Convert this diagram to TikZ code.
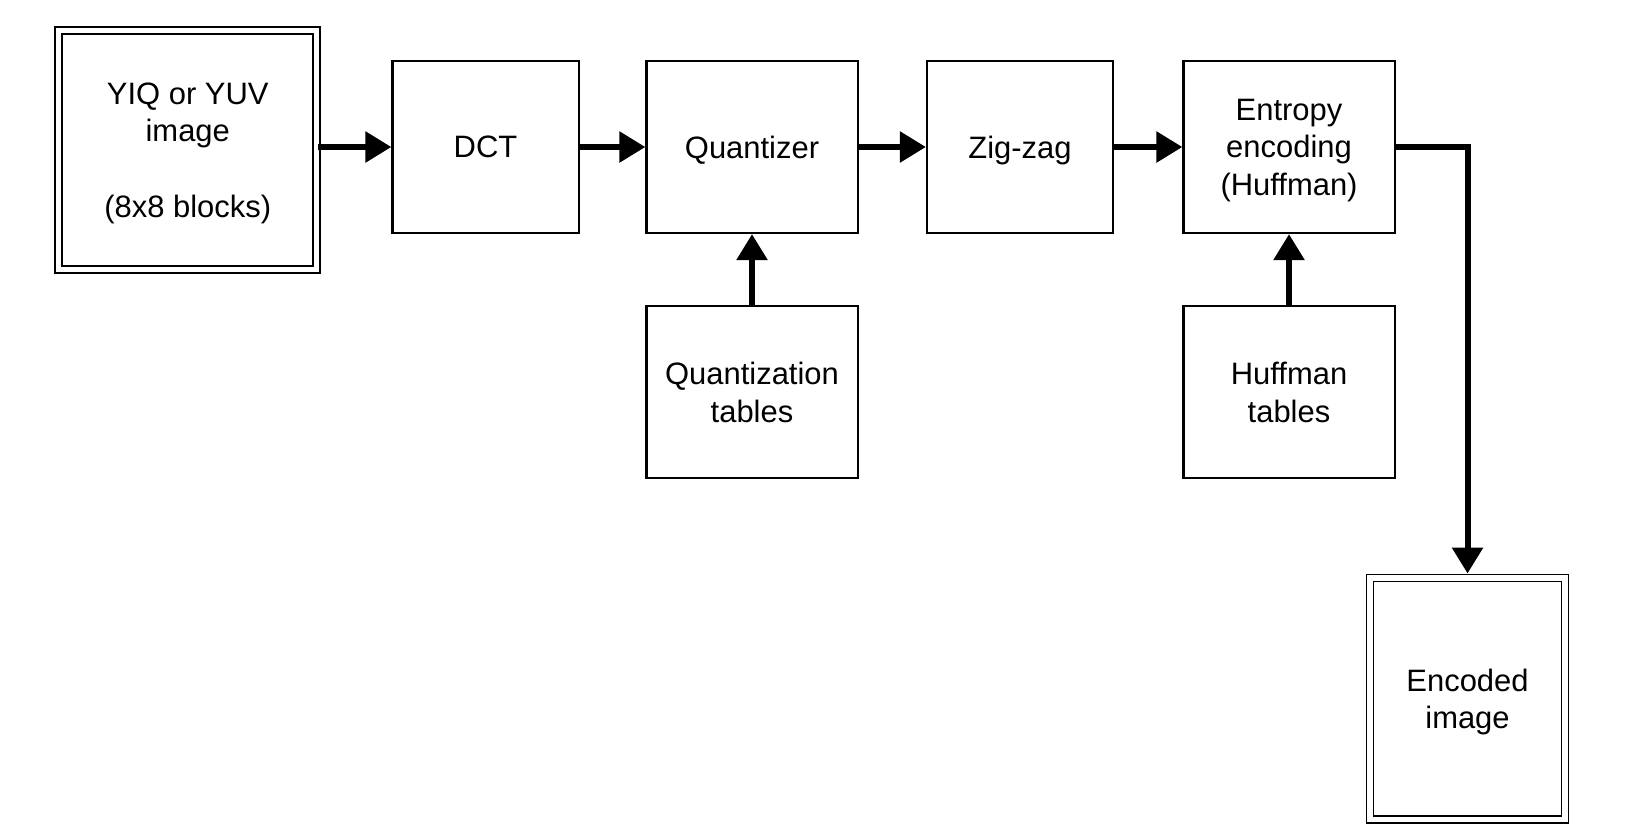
\documentclass[tikz,border=0pt]{standalone}
\usepackage{fontspec}
\setmainfont{Liberation Sans}
\usetikzlibrary{arrows.meta}

\begin{document}
\begin{tikzpicture}[
        x=0.01cm, y=-0.01cm,
        blk/.style={draw, line width=0.6pt, align=center, inner sep=0pt,
            minimum width=18.6mm, minimum height=17.2mm, text depth=0pt,
            font=\fontsize{8.8}{10.7}\selectfont},
        wide/.style={blk, minimum width=21.1mm},
        io/.style={blk, double, line width=0.5pt, double distance=1.5pt},
        flow/.style={line width=1.7pt, -{Triangle[length=7.4pt,width=8.5pt]}}
    ]
    \def\rowy{147} % y of the main row
    \def\taby{392} % y of the table boxes

    \useasboundingbox (0,0) rectangle (1640,827);

    % input and output images
    \node[io, minimum width=25.8mm, minimum height=23.95mm] (inp) at (187.75,150)
        {YIQ or YUV\\image\\[10.7pt](8x8 blocks)};
    \node[io, minimum width=19.5mm, minimum height=24.15mm] (out) at (1467.5,698.75)
        {Encoded\\image};

    % main row
    \node[blk]  (dct)     at (485.5,\rowy) {DCT};
    \node[wide] (quant)   at (752,\rowy)   {Quantizer};
    \node[blk]  (zigzag)  at (1020,\rowy)  {Zig-zag};
    \node[wide] (entropy) at (1289,\rowy)  {Entropy\\encoding\\(Huffman)};

    % tables
    \node[wide] (qtab) at (752,\taby)  {Quantization\\tables};
    \node[wide] (htab) at (1289,\taby) {Huffman\\tables};

    % connectors
    \draw[flow] (inp.east |- dct.west) -- (dct.west);
    \foreach \a/\b in {dct/quant, quant/zigzag, zigzag/entropy} {
        \draw[flow] (\a) -- (\b);
    }
    \draw[flow] (qtab) -- (quant);
    \draw[flow] (htab) -- (entropy);
    \draw[flow, shorten >=1pt] (entropy.east) -| (out.north);
\end{tikzpicture}
\end{document}
